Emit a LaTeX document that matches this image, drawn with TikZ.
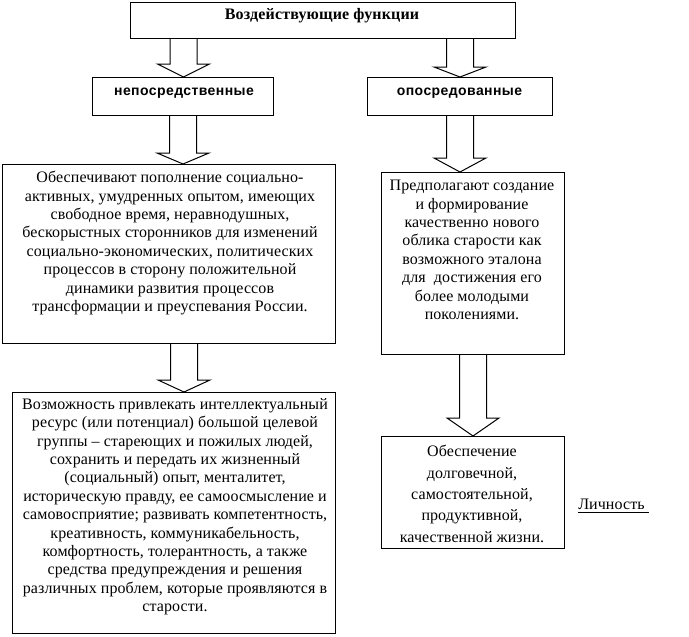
\documentclass[tikz,border=0pt]{standalone}
\usepackage{fontspec}
\setmainfont{Liberation Serif}[LetterSpace=0.5]
\newfontfamily\hdrfont{Liberation Sans}[LetterSpace=3]
\newfontfamily\ttlfont{Liberation Serif}[LetterSpace=1]
\usetikzlibrary{calc}
\tikzset{
  box/.style={draw=black, line width=0.75pt, fill=white, inner sep=0pt, anchor=north west},
  txt/.style={align=center, inner sep=0pt, anchor=north, font=\fontsize{12}{13.8}\selectfont},
  hdr/.style={inner sep=0pt, font=\hdrfont\bfseries\fontsize{10.5}{12}\selectfont},
  ttl/.style={inner sep=0pt, font=\ttlfont\bfseries\fontsize{12}{14}\selectfont},
  blockarrow/.style={draw=black, line width=0.75pt, fill=white, line join=miter}
}
% block arrow: source, target, x (px), head length (px)
\newcommand\barrow[4]{%
  \draw[blockarrow] let \p1=(#1.south), \p2=(#2.north), \p3=(#3,0) in
    (\x3-13.5*0.75pt,\y1) -- (\x3-13.5*0.75pt,\y2+#4*0.75pt) -- (\x3-26*0.75pt,\y2+#4*0.75pt)
    -- (\x3,\y2) -- (\x3+26*0.75pt,\y2+#4*0.75pt) -- (\x3+13.5*0.75pt,\y2+#4*0.75pt)
    -- (\x3+13.5*0.75pt,\y1);
}
\begin{document}
\begin{tikzpicture}[x=0.75pt,y=-0.75pt]
\useasboundingbox (0,0) rectangle (689,636);
% boxes
\node[box, minimum width=385*0.75pt, minimum height=36*0.75pt] (top) at (130,2) {};
\node[ttl] (toptxt) at (322,16) {Воздействующие функции};
\node[box, minimum width=181*0.75pt, minimum height=38*0.75pt] (direct) at (92,77) {};
\node[hdr] (directtxt) at (184,93) {непосредственные};
\node[box, minimum width=185*0.75pt, minimum height=38*0.75pt] (indirect) at (367,77) {};
\node[hdr] (indirecttxt) at (459.5,93) {опосредованные};
\node[box, minimum width=333*0.75pt, minimum height=179*0.75pt] (b3) at (2,164) {};
\node[txt] (b3txt) at (170,171) {Обеспечивают пополнение социально-\\
активных, умудренных опытом, имеющих\\
свободное время, неравнодушных,\\
бескорыстных сторонников для изменений\\
социально-экономических, политических\\
процессов в сторону положительной\\
динамики развития процессов\\
трансформации и преуспевания России.};
\node[box, minimum width=183*0.75pt, minimum height=182*0.75pt] (b5) at (381,172) {};
\node[txt] (b5txt) at (472,180) {Предполагают создание\\
и формирование\\
качественно нового\\
облика старости как\\
возможного эталона\\
для \ достижения его\\
более молодыми\\
поколениями.};
\node[box, minimum width=323*0.75pt, minimum height=241*0.75pt] (b4) at (12,392) {};
\node[txt] (b4txt) at (175,398) {Возможность привлекать интеллектуальный\\
ресурс (или потенциал) большой целевой\\
группы – стареющих и пожилых людей,\\
сохранить и передать их жизненный\\
(социальный) опыт, менталитет,\\
историческую правду, ее самоосмысление и\\
самовосприятие; развивать компетентность,\\
креативность, коммуникабельность,\\
комфортность, толерантность, а также\\
средства предупреждения и решения\\
различных проблем, которые проявляются в\\
старости.};
\node[box, minimum width=183*0.75pt, minimum height=112*0.75pt] (b6) at (381,436) {};
\node[txt, font=\fontsize{12}{16}\selectfont] (b6txt) at (472,445) {Обеспечение\\
долговечной,\\
самостоятельной,\\
продуктивной,\\
качественной жизни.};
\node[inner sep=0pt, anchor=west, font=\fontsize{12}{14}\selectfont] (person) at (578,506) {\underline{Личность\ }};
% arrows
\barrow{top}{direct}{183.5}{13}
\barrow{top}{indirect}{460}{10}
\barrow{direct}{b3}{183}{11}
\barrow{indirect}{b5}{460}{14}
\barrow{b3}{b4}{184}{12}
\barrow{b5}{b6}{473}{18}
\end{tikzpicture}
\end{document}
